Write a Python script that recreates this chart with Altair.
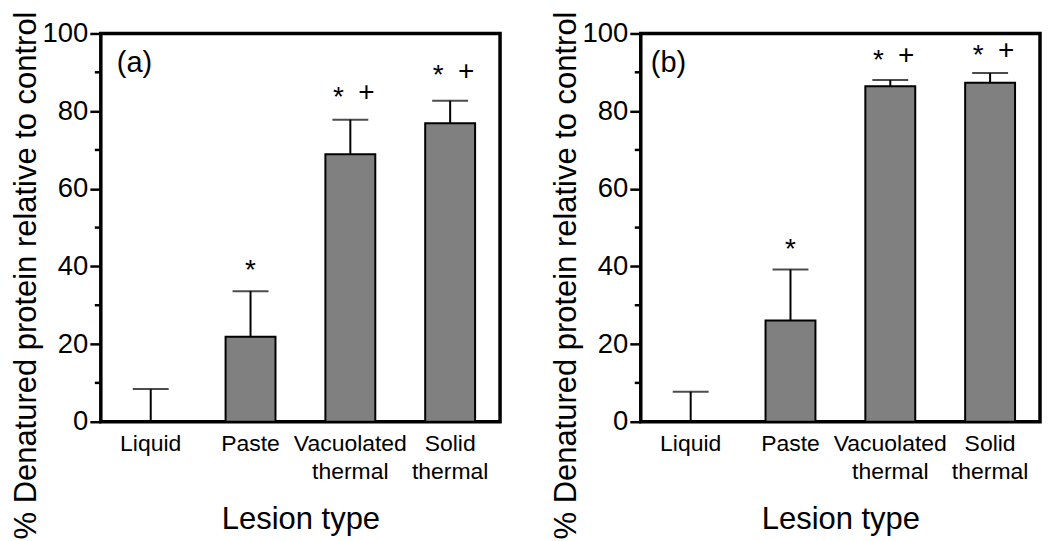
import altair as alt
import pandas as pd

# ---------------- data ----------------
categories = ["Liquid", "Paste", "Vacuolated thermal", "Solid thermal"]

mean_a = [0, 21.9, 68.9, 76.9]
err_top_a = [8.4, 33.6, 77.8, 82.7]

mean_b = [0, 26.1, 86.4, 87.3]
err_top_b = [7.7, 39.2, 88.0, 89.8]

# significance markers: (category, symbol, y-value)
marks_a = [("Paste", "*", 40.1),
           ("Vacuolated thermal", "*", 84.6), ("Vacuolated thermal", "+", 84.6),
           ("Solid thermal", "*", 90.2), ("Solid thermal", "+", 90.2)]
marks_b = [("Paste", "*", 45.4),
           ("Vacuolated thermal", "*", 94.2), ("Vacuolated thermal", "+", 94.2),
           ("Solid thermal", "*", 95.6), ("Solid thermal", "+", 95.6)]

panel_labels = ["(a)", "(b)"]
panel_label_y = [92.5, 92.5]

y_ticks = [0, 20, 40, 60, 80, 100]
y_minor = [10, 30, 50, 70, 90]

y_title = "% Denatured protein relative to control"
x_title = "Lesion type"

# ---------------- style ----------------
FONT = "Liberation Sans"
W, H = 400, 389
sym_dx = {"*": -12, "+": 16}
sym_dy = {"*": 5, "+": 0}
panel_label_x = [16, 10]

xscale = alt.Scale(domain=categories, paddingInner=0.5, paddingOuter=0.25)
yscale = alt.Scale(domain=[0, 100], nice=False, zero=True)


def panel(means, tops, marks, label, label_y, label_x):
    df = pd.DataFrame({"cat": categories, "value": means, "top": tops})

    x_main = alt.X(
        "cat:N", sort=categories, scale=xscale,
        axis=alt.Axis(
            title=x_title, labelAngle=0, ticks=False, tickSize=0, domain=False,
            labelExpr="split(datum.label, ' ')", labelFontSize=23,
            labelLineHeight=28, labelPadding=11, labelFont=FONT,
            labelColor="black", titleFont=FONT, titleFontSize=31,
            titleFontWeight="normal", titleColor="black", titlePadding=21,
            labelLimit=300,
        ),
    )
    x_plain = alt.X("cat:N", sort=categories, scale=xscale)

    bars = alt.Chart(df).mark_bar(
        color="#808080", stroke="black", strokeWidth=2
    ).encode(
        x=x_main,
        y=alt.Y(
            "value:Q", scale=yscale,
            axis=alt.Axis(
                title=y_title, values=y_ticks, grid=False, domain=False,
                tickSize=11, tickWidth=2.5, tickColor="black",
                labelFontSize=27.5, labelFont=FONT, labelColor="black",
                labelPadding=2, titleFont=FONT, titleFontSize=31,
                titleFontWeight="normal", titleColor="black",
                titlePadding=0, titleY=242, titleLimit=1000,
            ),
        ),
    )

    stem = alt.Chart(df).mark_rule(color="black", strokeWidth=2).encode(
        x=x_plain,
        y=alt.Y("value:Q", scale=yscale),
        y2="top:Q",
    )
    cap = alt.Chart(df).mark_tick(color="black", thickness=2, size=36).encode(
        x=x_plain,
        y=alt.Y("top:Q", scale=yscale),
    )

    minor = alt.Chart(pd.DataFrame({"v": y_minor})).mark_rule(
        color="black", strokeWidth=2.5
    ).encode(
        y=alt.Y("v:Q", scale=yscale),
        x=alt.value(-6), x2=alt.value(0),
    )

    layers = [bars, stem, cap, minor]

    for cat, sym, yv in marks:
        t = alt.Chart(pd.DataFrame({"cat": [cat], "y": [yv]})).mark_text(
            text=sym, font=FONT, fontSize=28, color="black",
            dx=sym_dx[sym] if cat != "Paste" else 0, dy=sym_dy[sym],
            baseline="middle", align="center",
        ).encode(x=x_plain, y=alt.Y("y:Q", scale=yscale))
        layers.append(t)

    lab = alt.Chart(pd.DataFrame({"y": [label_y]})).mark_text(
        text=label, font=FONT, fontSize=29, color="black",
        align="left", baseline="middle",
    ).encode(x=alt.value(label_x), y=alt.Y("y:Q", scale=yscale))
    layers.append(lab)

    return alt.layer(*layers).properties(width=W, height=H)


left = panel(mean_a, err_top_a, marks_a, panel_labels[0], panel_label_y[0], panel_label_x[0])
right = panel(mean_b, err_top_b, marks_b, panel_labels[1], panel_label_y[1], panel_label_x[1])

chart = alt.hconcat(left, right, spacing=46).properties(
    padding=0,
    background="white",
).configure_view(stroke="black", strokeWidth=3.5)

chart.save("out.html", embed_options={"renderer": "svg", "actions": False})
